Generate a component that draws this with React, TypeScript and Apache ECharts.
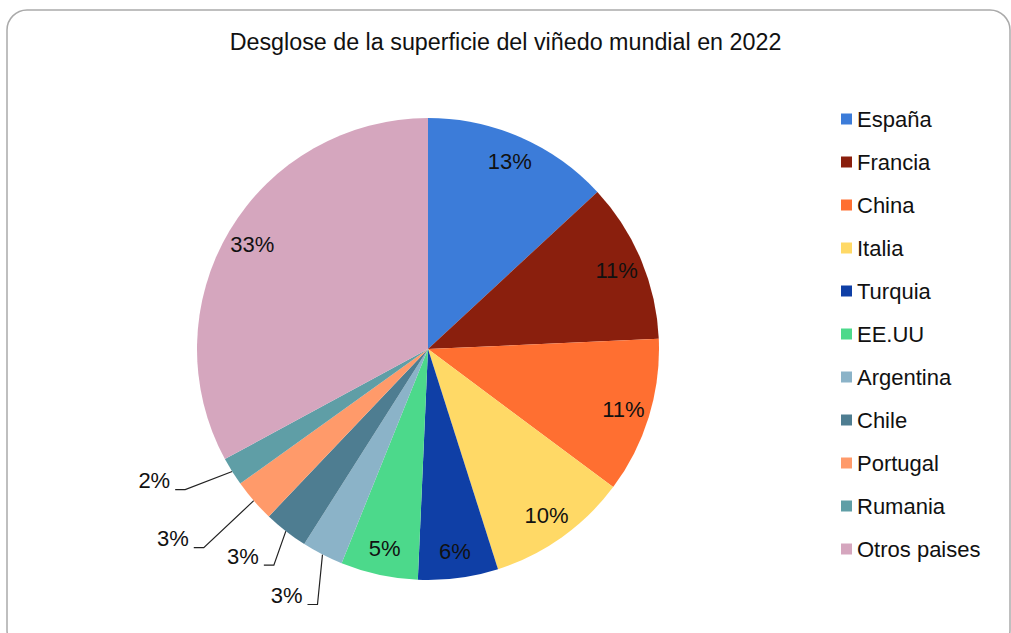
import React, { useEffect, useRef } from "react";
import * as echarts from "echarts";

const titleText = "Desglose de la superficie del viñedo mundial en 2022";
const countries = [
  "España",
  "Francia",
  "China",
  "Italia",
  "Turquia",
  "EE.UU",
  "Argentina",
  "Chile",
  "Portugal",
  "Rumania",
  "Otros paises",
];
const shares = [13.1, 11.2, 10.9, 9.9, 5.6, 5.4, 2.9, 3.1, 3.0, 2.0, 32.9];
const colors = [
  "#3C7CD9",
  "#8A1F0D",
  "#FF6F31",
  "#FFD966",
  "#0F3FA6",
  "#4CD98B",
  "#8BB3C8",
  "#4E7D91",
  "#FF9A6A",
  "#5F9EA6",
  "#D5A6BE",
];

// leader-line elbow offsets (from slice edge) for the small outside labels
const leaderOffsets: Record<string, [number, number]> = {
  Argentina: [-5, 50],
  Chile: [-12, 34],
  Portugal: [-50, 47],
  Rumania: [-47, 18],
};

const FONT = "'Liberation Sans', Arial, Helvetica, sans-serif";

export default function App() {
  const ref = useRef<HTMLDivElement>(null);
  useEffect(() => {
    if (!ref.current) return;
    const chart = echarts.init(ref.current, undefined, { renderer: "svg" });
    const total = shares.reduce((a, b) => a + b, 0);
    const pct = (v: number) => Math.round((v / total) * 100) + "%";
    const isSmall = (name: string) => leaderOffsets[name] !== undefined;

    const mainData = countries.map((n, i) => ({
      name: n,
      value: shares[i],
      itemStyle: { color: colors[i] },
      label: { show: isSmall(n) },
      labelLine: { show: isSmall(n) },
    }));
    const overlayData = countries.map((n, i) => ({
      name: n,
      value: shares[i],
      itemStyle: { color: "rgba(0,0,0,0)" },
      label: { show: !isSmall(n) },
    }));

    const option: any = {
      animation: false,
      backgroundColor: "#ffffff",
      title: {
        text: titleText,
        left: "center",
        top: 25,
        padding: [5, 0, 5, 12],
        textStyle: {
          fontFamily: FONT,
          fontSize: 23.3,
          fontWeight: "normal",
          color: "#111",
        },
      },
      legend: {
        orient: "vertical",
        left: 836,
        top: 103,
        itemWidth: 11,
        itemHeight: 11,
        itemGap: 21,
        icon: "rect",
        data: countries,
        selectedMode: false,
        textStyle: {
          fontFamily: FONT,
          fontSize: 22,
          lineHeight: 22,
          color: "#111",
        },
      },
      graphic: [
        {
          type: "rect",
          z: -10,
          silent: true,
          shape: { x: 7, y: 10, width: 1003, height: 640, r: 20 },
          style: { fill: "none", stroke: "#aaaaaa", lineWidth: 1.5 },
        },
      ],
      series: [
        {
          type: "pie",
          name: "main",
          center: [428, 349],
          radius: 231,
          startAngle: 90,
          clockwise: true,
          avoidLabelOverlap: false,
          itemStyle: { borderWidth: 0 },
          emphasis: { disabled: true },
          label: {
            position: "outside",
            fontFamily: FONT,
            fontSize: 22,
            color: "#111",
            formatter: (p: any) => pct(p.value),
          },
          labelLine: {
            length: 30,
            length2: 10,
            lineStyle: { color: "#222", width: 1.2 },
          },
          labelLayout: (params: any) => {
            const name = countries[params.dataIndex];
            const off = leaderOffsets[name];
            if (!off || !params.labelLinePoints) return {};
            const p0 = params.labelLinePoints[0];
            const p1 = [p0[0] + off[0], p0[1] + off[1]];
            const p2 = [p1[0] - 10, p1[1]];
            return {
              x: p2[0] - 5,
              y: p1[1] + 2,
              align: "right",
              verticalAlign: "bottom",
              labelLinePoints: [p0, p1, p2],
            };
          },
          data: mainData,
        },
        {
          type: "pie",
          name: "labels",
          center: [428, 349],
          radius: [170, 233],
          startAngle: 90,
          clockwise: true,
          silent: true,
          avoidLabelOverlap: false,
          emphasis: { disabled: true },
          label: {
            position: "inside",
            fontFamily: FONT,
            fontSize: 22,
            color: "#111",
            formatter: (p: any) => pct(p.value),
          },
          labelLine: { show: false },
          data: overlayData,
        },
      ],
    };
    chart.setOption(option);
    return () => chart.dispose();
  }, []);
  return (
    <div
      ref={ref}
      style={{ position: "fixed", left: 0, top: 0, width: 1011, height: 633 }}
    />
  );
}
